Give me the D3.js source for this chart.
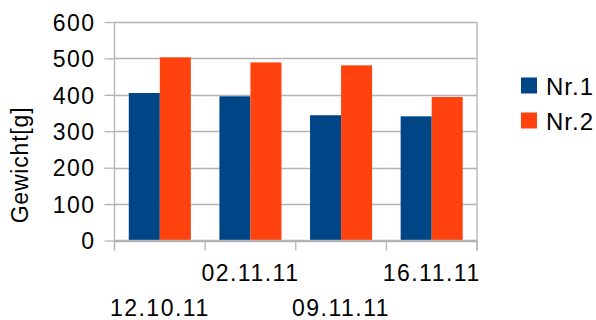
<!DOCTYPE html>
<html>
<head>
<meta charset="utf-8">
<script src="https://cdn.jsdelivr.net/npm/d3@7"></script>
<style>
  html, body { margin: 0; padding: 0; background: #fff; }
  svg text { font-family: "Liberation Sans", Arial, sans-serif; fill: #000; }
</style>
</head>
<body>
<svg id="chart" width="596" height="320"></svg>
<script>
// Weight measurements per date
const categories = ["12.10.11", "02.11.11", "09.11.11", "16.11.11"];
const seriesNames = ["Nr.1", "Nr.2"];
const nr1 = [405, 396, 344, 341];
const nr2 = [503, 489, 481, 394];
const yTicks = [0, 100, 200, 300, 400, 500, 600];
const colors = ["#004586", "#ff420e"];
const yTitle = "Gewicht[g]";

const svg = d3.select("#chart");
const plot = { left: 114.5, right: 477, top: 22, bottom: 240.5 };
const gridColor = "#b3b3b3";
const fontSize = 23;

const x = d3.scaleBand().domain(categories).range([plot.left, plot.right]).padding(0);
const xSub = d3.scaleBand().domain(seriesNames).range([0, x.bandwidth()])
  .paddingInner(0).paddingOuter(0.46);
const y = d3.scaleLinear().domain([0, 600]).range([plot.bottom, plot.top]);

// horizontal gridlines
svg.append("g").selectAll("line").data(yTicks).join("line")
  .attr("x1", plot.left).attr("x2", plot.right)
  .attr("y1", d => Math.round(y(d)) + 0.5).attr("y2", d => Math.round(y(d)) + 0.5)
  .attr("stroke", gridColor).attr("stroke-width", 1.3);

// right border of plot
svg.append("line")
  .attr("x1", plot.right).attr("x2", plot.right)
  .attr("y1", plot.top).attr("y2", plot.bottom + 10)
  .attr("stroke", gridColor).attr("stroke-width", 1.3);

// bars
const rows = categories.map((c, i) => ({ cat: c, vals: [nr1[i], nr2[i]] }));
const groups = svg.append("g").selectAll("g").data(rows).join("g")
  .attr("transform", d => `translate(${x(d.cat)},0)`);
groups.selectAll("rect").data(d => d.vals.map((v, j) => ({ name: seriesNames[j], v, j })))
  .join("rect")
  .attr("x", d => xSub(d.name))
  .attr("width", xSub.bandwidth())
  .attr("y", d => y(d.v))
  .attr("height", d => y(0) - y(d.v))
  .attr("fill", d => colors[d.j]);

// y axis
const yAxis = d3.axisLeft(y).tickValues(yTicks).tickSize(10).tickPadding(9);
const gy = svg.append("g").attr("transform", `translate(${plot.left},0)`).call(yAxis);
gy.select(".domain").attr("stroke", gridColor).attr("stroke-width", 1.3)
  .attr("d", `M0,${plot.top}V${plot.bottom + 10}`);
gy.selectAll(".tick line").attr("stroke", gridColor).attr("stroke-width", 1.3);
gy.selectAll(".tick text")
  .style("font-family", '"Liberation Sans", Arial, sans-serif')
  .style("font-size", fontSize + "px").style("letter-spacing", "1.5px")
  .attr("fill", "#000").attr("dy", "0.36em");

// x axis: ticks at category boundaries, labels staggered on two rows
const bounds = categories.map(c => x(c)).concat([plot.right]);
svg.append("g").selectAll("line").data(bounds).join("line")
  .attr("x1", d => d).attr("x2", d => d)
  .attr("y1", plot.bottom).attr("y2", plot.bottom + 10)
  .attr("stroke", gridColor).attr("stroke-width", 1.3);
svg.append("line")
  .attr("x1", plot.left).attr("x2", plot.right)
  .attr("y1", plot.bottom).attr("y2", plot.bottom)
  .attr("stroke", gridColor).attr("stroke-width", 1.3);

svg.append("g").selectAll("text").data(categories).join("text")
  .attr("x", d => x(d) + x.bandwidth() / 2)
  .attr("y", (d, i) => i % 2 === 0 ? 316 : 281)
  .attr("text-anchor", "middle")
  .style("font-size", fontSize + "px").style("letter-spacing", "1.5px")
  .text(d => d);

// y axis title
svg.append("text")
  .attr("transform", `translate(28,165) rotate(-90)`)
  .attr("text-anchor", "middle")
  .style("font-size", fontSize + "px").style("letter-spacing", "0.8px")
  .text(yTitle);

// legend
const legend = svg.append("g").selectAll("g").data(seriesNames).join("g")
  .attr("transform", (d, i) => `translate(521,${77.5 + i * 35})`);
legend.append("rect").attr("width", 16).attr("height", 16)
  .attr("fill", (d, i) => colors[i]);
legend.append("text").attr("x", 25).attr("y", 17)
  .style("font-size", "24px").style("letter-spacing", "1px")
  .text(d => d);
</script>
</body>
</html>
